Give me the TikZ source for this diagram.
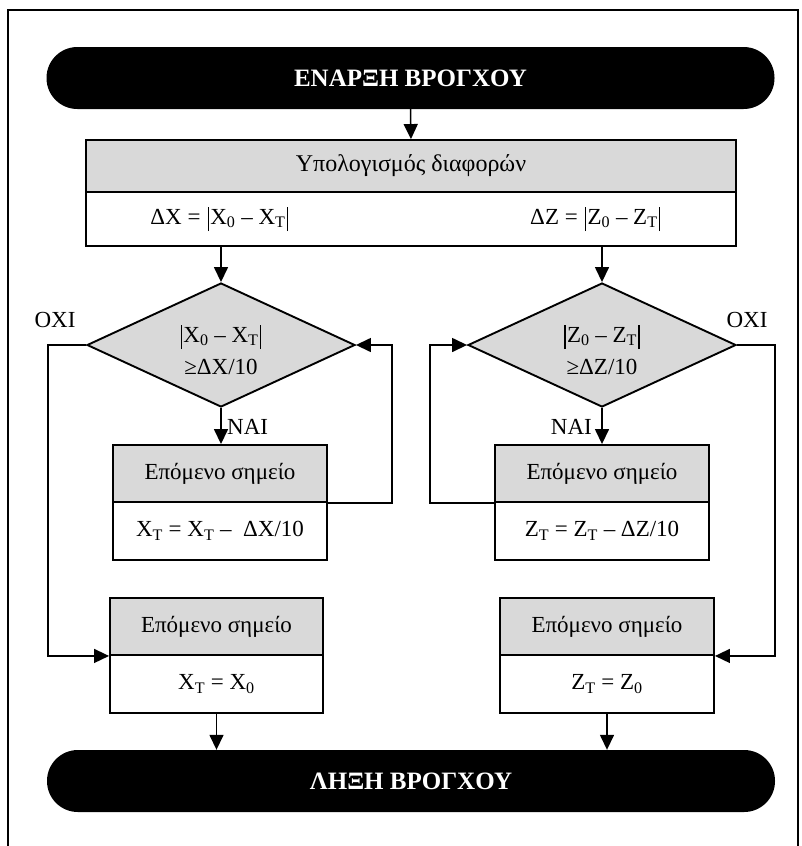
\documentclass[tikz,border=0pt]{standalone}
\usepackage{fontspec}
\setmainfont{Liberation Serif}
\usetikzlibrary{arrows.meta,shapes.geometric}
\definecolor{boxgray}{RGB}{217,217,217}
% tall absolute-value bar and index helpers
\newcommand{\absbar}{\kern0.06em\raisebox{-0.3em}{\rule{0.06em}{1.05em}}\kern0.06em}
\newcommand{\lowidx}[1]{\textsubscript{#1}}
\begin{document}
\begin{tikzpicture}[x=1pt,y=-1pt,
  font=\fontsize{23}{27}\selectfont,
  conn/.style={line width=1.5pt},
  arr/.style={conn,-{Triangle[length=15pt,width=14pt]}},
  graybox/.style={draw,line width=1.9pt,fill=boxgray,inner sep=0pt,minimum width=214,minimum height=57},
  whitebox/.style={draw,line width=1.9pt,fill=white,inner sep=0pt,minimum width=214,minimum height=58},
  term/.style={fill=black,rounded corners=30.9pt,minimum width=728,minimum height=62,inner sep=0pt,
    text=white,font=\fontsize{25}{29}\selectfont\bfseries},
  decision/.style={diamond,draw,line width=1.9pt,fill=boxgray,inner sep=0pt,aspect=2.16,
    minimum width=268,minimum height=124},
  lbl/.style={inner sep=0pt}
]
\useasboundingbox (0,0) rectangle (801,846);

% outer frame
\draw[line width=1.9pt] (8,846) -- (8,10) -- (798,10) -- (798,846);

% start / stop terminals
\node[term] (start) at (410.5,78) {ΕΝΑΡΞΗ ΒΡΟΓΧΟΥ};
\node[term] (stop) at (411,781) {ΛΗΞΗ ΒΡΟΓΧΟΥ};

% differences block
\node[graybox,minimum width=650,minimum height=52,font=\fontsize{24}{28}\selectfont] (calcT) at (411,166) {Υπολογισμός διαφορών};
\node[whitebox,minimum width=650,minimum height=54] (calcB) at (411,219) {};
\node[lbl] (dx) at (220,219) {ΔX = \absbar X\lowidx{0} – X\lowidx{T}\absbar};
\node[lbl] (dz) at (596,219) {ΔZ = \absbar Z\lowidx{0} – Z\lowidx{T}\absbar};

% decisions
\node[decision] (dL) at (221,345) {};
\node[decision] (dR) at (602,345) {};
\node[lbl] (dLa) at (221,337) {\absbar X\lowidx{0} – X\lowidx{T}\absbar};
\node[lbl] (dLb) at (221,367) {≥ΔX/10};
\node[lbl] (dRa) at (602,337) {\absbar Z\lowidx{0} – Z\lowidx{T}\absbar};
\node[lbl] (dRb) at (602,367) {≥ΔZ/10};

% step boxes inside the loops
\node[graybox] (nxT) at (220,473.5) {Επόμενο σημείο};
\node[whitebox] (nxB) at (220,531) {X\lowidx{T} = X\lowidx{T} –\ \ ΔX/10};
\node[graybox] (nzT) at (602,473.5) {Επόμενο σημείο};
\node[whitebox] (nzB) at (602,531) {Z\lowidx{T} = Z\lowidx{T} – ΔZ/10};

% reset boxes
\node[graybox,minimum width=213] (rxT) at (216.5,626.5) {Επόμενο σημείο};
\node[whitebox,minimum width=213] (rxB) at (216.5,684) {X\lowidx{T} = X\lowidx{0}};
\node[graybox,minimum width=214] (rzT) at (607,626.5) {Επόμενο σημείο};
\node[whitebox,minimum width=214] (rzB) at (607,684) {Z\lowidx{T} = Z\lowidx{0}};

% branch labels
\node[lbl] (noL) at (55,320) {ΟΧΙ};
\node[lbl] (noR) at (747,320) {ΟΧΙ};
\node[lbl,anchor=west] (yesL) at (227,427) {ΝΑΙ};
\node[lbl,anchor=east] (yesR) at (592,427) {ΝΑΙ};

% routing columns
\coordinate (loopL) at (392,0);
\coordinate (loopR) at (430,0);
\coordinate (outL) at (48,0);
\coordinate (outR) at (775,0);

% connectors
\draw[arr] (start.south) -- (calcT.north);
\draw[arr] (calcB.south -| dL.north) -- (dL.north);
\draw[arr] (calcB.south -| dR.north) -- (dR.north);
\draw[arr] (dL.south) -- (dL.south |- nxT.north);
\draw[arr] (dR.south) -- (dR.south |- nzT.north);
\draw[arr] (nxT.south east) -| (loopL |- dL.east) -- (dL.east);
\draw[arr] (nzT.south west) -| (loopR |- dR.west) -- (dR.west);
\draw[arr] (dL.west) -| (outL |- rxT.south west) -- (rxT.south west);
\draw[arr] (dR.east) -| (outR |- rzT.south east) -- (rzT.south east);
\draw[arr] (rxB.south) -- (rxB.south |- stop.north);
\draw[arr] (rzB.south) -- (rzB.south |- stop.north);
\end{tikzpicture}
\end{document}
